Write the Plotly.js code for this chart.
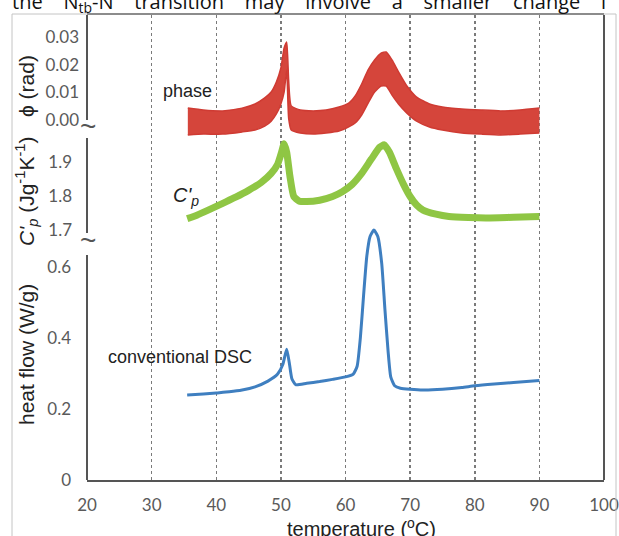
<!DOCTYPE html>
<html>
<head>
<meta charset="utf-8">
<script src="https://cdn.plot.ly/plotly-3.0.1.min.js"></script>
<style>html,body{margin:0;padding:0;background:#fff;}#chart{width:619px;height:536px;}</style>
</head>
<body>
<div id="chart"></div>
<script>
// ---- data ----
const xTicks = [20, 30, 40, 50, 60, 70, 80, 90, 100];
const gridTicks = [30, 40, 50, 60, 70, 80, 90];

const heatTicks = [0, 0.2, 0.4, 0.6];
const heatTickText = ['0', '0.2', '0.4', '0.6'];
const cpTicks = [1.7, 1.8, 1.9];
const cpTickText = ['1.7', '1.8', '1.9'];
const phaseTicks = [0, 0.01, 0.02, 0.03];
const phaseTickText = ['0.00', '0.01', '0.02', '0.03'];

// conventional DSC heat flow (W/g)
const heatT = [35.5, 38, 40, 42, 44, 46, 48, 49.5, 50.3, 50.9, 51.3, 51.7, 52.3, 54, 56, 58, 60, 61.2, 61.8, 62.3, 62.8, 63.3, 63.8, 64.4, 65.0, 65.6, 66.1, 66.6, 67.0, 67.6, 68.5, 70, 72, 75, 78, 80, 83, 86, 90];
const heatFlow = [0.239, 0.242, 0.245, 0.248, 0.253, 0.262, 0.278, 0.298, 0.325, 0.368, 0.33, 0.285, 0.268, 0.272, 0.277, 0.283, 0.290, 0.298, 0.32, 0.40, 0.52, 0.63, 0.685, 0.703, 0.685, 0.61, 0.48, 0.36, 0.29, 0.265, 0.258, 0.255, 0.253, 0.255, 0.260, 0.265, 0.270, 0.274, 0.280];

// C'p (J g^-1 K^-1)
const cpT = [35.5, 37, 39, 41, 43, 45, 47, 48.5, 49.5, 50.1, 50.5, 50.9, 51.4, 52.0, 52.8, 54, 56, 58, 59.5, 61, 62.5, 64, 65.3, 66.0, 66.8, 67.8, 69, 70, 71, 72, 74, 76, 79, 82, 86, 90];
const cpVal = [1.735, 1.745, 1.762, 1.780, 1.798, 1.818, 1.842, 1.868, 1.895, 1.93, 1.955, 1.93, 1.86, 1.80, 1.787, 1.785, 1.789, 1.800, 1.814, 1.835, 1.868, 1.91, 1.945, 1.952, 1.93, 1.885, 1.835, 1.80, 1.775, 1.76, 1.748, 1.741, 1.738, 1.737, 1.739, 1.741];

// phase (rad): noisy band, upper and lower edges
const phaseT = [35.6, 38, 41, 44, 46, 47.5, 48.5, 49.3, 50, 50.5, 50.9, 51.2, 51.6, 53, 55, 57, 59, 60.5, 61.5, 62.5, 63.5, 64.5, 65.5, 66.3, 67.2, 68.2, 69.5, 71, 73, 75, 78, 81, 84, 87, 90];
const phaseUpper = [0.0043, 0.0036, 0.0033, 0.0043, 0.0058, 0.0080, 0.0101, 0.0137, 0.0188, 0.0260, 0.0282, 0.0145, 0.0051, 0.0036, 0.0033, 0.0036, 0.0047, 0.0061, 0.0087, 0.0130, 0.0181, 0.0217, 0.0242, 0.0246, 0.0217, 0.0174, 0.0123, 0.0083, 0.0058, 0.0047, 0.0040, 0.0036, 0.0033, 0.0036, 0.0043];
const phaseLower = [-0.0054, -0.0051, -0.0051, -0.0043, -0.0036, -0.0022, -0.0004, 0.0022, 0.0058, 0.0101, 0.0181, 0.0007, -0.0036, -0.0047, -0.0051, -0.0047, -0.0040, -0.0025, -0.0011, 0.0018, 0.0061, 0.0101, 0.0123, 0.0123, 0.0090, 0.0058, 0.0025, -0.0004, -0.0025, -0.0036, -0.0047, -0.0051, -0.0054, -0.0051, -0.0047];

// ---- chart ----
const red = '#d5453b', green = '#8fc644', blue = '#3f7fc0';
const tickFont = {family: 'Lato, "Open Sans", sans-serif', size: 17, color: '#5a5a5a'};
const textFont = {family: '"Liberation Sans", Arial, sans-serif', size: 18, color: '#222'};

const traces = [
  {x: phaseT, y: phaseLower, yaxis: 'y3', mode: 'lines', line: {color: '#cf3b33', width: 1.5, shape: 'spline', smoothing: 0.5}, hoverinfo: 'skip'},
  {x: phaseT, y: phaseUpper, yaxis: 'y3', mode: 'lines', fill: 'tonexty', fillcolor: red, line: {color: '#cf3b33', width: 1.5, shape: 'spline', smoothing: 0.5}, hoverinfo: 'skip'},
  {x: cpT, y: cpVal, yaxis: 'y2', mode: 'lines', line: {color: green, width: 7, shape: 'spline', smoothing: 0.5}},
  {x: heatT, y: heatFlow, yaxis: 'y', mode: 'lines', line: {color: blue, width: 3, shape: 'spline', smoothing: 0.5}},
  {x: [], y: [], xaxis: 'x2', yaxis: 'y', mode: 'lines', hoverinfo: 'skip'}
];

const H = 465, W = 517, L = 87, B = 480;
const py = p => (B - p) / H;     // pixel row -> paper y
const px = p => (p - L) / W;     // pixel col -> paper x

const axLine = {color: '#555', width: 2};
const frame = {color: '#c4c4c4', width: 1};

function note(x, y, text, font, extra) {
  return Object.assign({xref: 'paper', yref: 'paper', x: px(x), y: py(y), showarrow: false,
                        xanchor: 'center', yanchor: 'middle', text: text, font: font}, extra || {});
}
const titleFont = {family: '"Liberation Sans", Arial, sans-serif', size: 21, color: '#222'};
const tildeFont = {family: '"Liberation Sans", sans-serif', size: 28, color: '#555'};

const layout = {
  width: 619, height: 536,
  margin: {l: 87, r: 15, t: 15, b: 56, pad: 0},
  paper_bgcolor: '#fff', plot_bgcolor: '#fff',
  showlegend: false,
  xaxis: {range: [20, 100], tickvals: xTicks, ticktext: xTicks.map(String), showgrid: false, zeroline: false,
          showline: true, linecolor: '#555', linewidth: 2, mirror: true, ticks: '', tickfont: tickFont, ticklabelstandoff: 9},
  xaxis2: {overlaying: 'x', range: [20, 100], tickvals: gridTicks, showticklabels: false, ticks: '',
           showgrid: true, gridcolor: '#7a7a7a', gridwidth: 1.5, griddash: 'dot', zeroline: false, showline: false},
  yaxis: {range: [0, 1.308], tickvals: heatTicks, ticktext: heatTickText, showgrid: false, zeroline: false, showline: false,
          ticks: '', tickfont: tickFont, ticklabelstandoff: 15},
  yaxis2: {overlaying: 'y', range: [0.9662, 2.3338], tickvals: cpTicks, ticktext: cpTickText, showgrid: false, zeroline: false,
           showline: false, ticks: '', tickfont: tickFont, ticklabelstandoff: 14},
  yaxis3: {overlaying: 'y', range: [-0.1301, 0.03795], tickvals: phaseTicks, ticktext: phaseTickText, showgrid: false, zeroline: false,
           showline: false, ticks: '', tickfont: tickFont, ticklabelstandoff: 7},
  shapes: [
    {type: 'line', xref: 'paper', yref: 'paper', x0: 0, x1: 0, y0: py(120), y1: 1, line: axLine},
    {type: 'line', xref: 'paper', yref: 'paper', x0: 0, x1: 0, y0: py(233), y1: py(138), line: axLine},
    {type: 'line', xref: 'paper', yref: 'paper', x0: 0, x1: 0, y0: 0, y1: py(255), line: axLine},
    {type: 'line', xref: 'paper', yref: 'paper', x0: 1, x1: 1, y0: 0, y1: 1, line: axLine},
    {type: 'line', xref: 'paper', yref: 'paper', x0: px(12), x1: px(12), y0: py(14), y1: py(540), line: frame},
    {type: 'line', xref: 'paper', yref: 'paper', x0: px(616), x1: px(616), y0: py(14), y1: py(540), line: frame},
    {type: 'line', xref: 'paper', yref: 'paper', x0: px(12), x1: px(616), y0: py(14), y1: py(14), line: frame}
  ],
  annotations: [
    note(309, 3, ['the', 'N<sub>tb</sub>-N', 'transition', 'may', 'involve', 'a', 'smaller', 'change', 'i'].join('\u00a0\u00a0\u00a0\u00a0'),
         {family: '"Open Sans", sans-serif', size: 20, color: '#111'}),
    note(88, 126, '~', tildeFont),
    note(88, 240, '~', tildeFont),
    note(26, 355, 'heat flow (W/g)', titleFont, {textangle: -90}),
    note(26, 191, "<i>C'<sub>p</sub></i> (Jg<sup>-1</sup>K<sup>-1</sup>)", titleFont, {textangle: -90}),
    note(26, 86, '\u03d5 (rad)', titleFont, {textangle: -90}),
    note(361, 527, 'temperature (<sup>o</sup>C)', {family: '"Liberation Sans", Arial, sans-serif', size: 20, color: '#222'}),
    note(187, 91, 'phase', textFont),
    note(186, 197, "<i>C'<sub>p</sub></i>", {family: '"Liberation Sans", Arial, sans-serif', size: 20, color: '#222'}),
    note(180, 357, 'conventional DSC', textFont)
  ]
};

Plotly.newPlot('chart', traces, layout, {displayModeBar: false, staticPlot: true});
</script>
</body>
</html>
